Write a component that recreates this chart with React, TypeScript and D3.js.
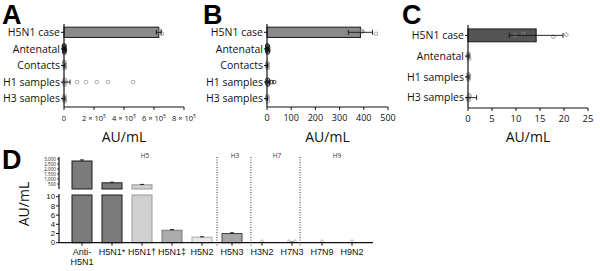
import React from "react";
import * as d3 from "d3";

// ---------- Panel A ----------
const aCategories = ["H5N1 case", "Antenatal", "Contacts", "H1 samples", "H3 samples"];
const aMeans = [632000, 2000, 3000, 12000, 3000];
const aErrs = [16000, 1500, 3000, 28000, 3000];
const aPoints = [
  [615000, 640000, 652000, 630000],
  [500, 1500, 2500, 800, 3000, 1200, 2000, 4000],
  [1000, 3000, 5000, 2000, 6000, 1500],
  [1000, 3000, 6000, 9000, 2000, 87000, 147000, 220000, 293000, 460000],
  [1000, 3000, 5000, 2000, 4000],
];
const aTicks = [0, 200000, 400000, 600000, 800000];

// ---------- Panel B ----------
const bCategories = ["H5N1 case", "Antenatal", "Contacts", "H1 samples", "H3 samples"];
const bMeans = [386, 3, 2, 5, 1];
const bErrs = [50, 2, 1, 5, 1];
const bPoints = [
  [337, 390, 450, 395],
  [1, 2, 3, 4, 5, 2, 3, 1],
  [1, 2, 3, 2, 1],
  [1, 2, 4, 6, 3, 20, 30],
  [1, 2, 3, 1],
];
const bTicks = [0, 100, 200, 300, 400, 500];

// ---------- Panel C ----------
const cCategories = ["H5N1 case", "Antenatal", "H1 samples", "H3 samples"];
const cMeans = [14.2, 0.1, 0.1, 0.3];
const cErrs = [5.6, 0.1, 0.1, 1.5];
const cPoints = [
  [9.8, 11.5, 17.8, 20.5],
  [0.1, 0.1, 0.2, 0.1, 0.1],
  [0.1, 0.1, 0.1, 0.2, 0.1],
  [0.1, 0.2, 0.1, 0.3, 0.1],
];
const cTicks = [0, 5, 10, 15, 20, 25];

// ---------- Panel D ----------
const dCategories = ["Anti-H5N1", "H5N1*", "H5N1\u2020", "H5N1\u2021", "H5N2", "H5N3", "H3N2", "H7N3", "H7N9", "H9N2"];
const dLabelLines = [["Anti-", "H5N1"], ["H5N1*"], ["H5N1\u2020"], ["H5N1\u2021"], ["H5N2"], ["H5N3"], ["H3N2"], ["H7N3"], ["H7N9"], ["H9N2"]];
const dValues = [2800, 620, 420, 2.7, 1.2, 2.0, 0.05, 0.1, 0.03, 0.05];
const dErrs = [110, 60, 40, 0.15, 0.08, 0.15, 0, 0.05, 0, 0];
const dFills = ["#7b7b7b", "#7b7b7b", "#d0d0d0", "#ababab", "#e8e8e8", "#a6a6a6", "#bbb", "#bbb", "#333", "#bbb"];
const dStrokes = ["#1a1a1a", "#1a1a1a", "#999", "#777", "#aaa", "#444", "#999", "#999", "#111", "#999"];
const dUpperTicks = [500, 1000, 1500, 2000, 2500, 3000];
const dLowerTicks = [0, 2, 4, 6, 8, 10];
const dGroups = ["H5", "H3", "H7", "H9"];
const dGroupPos = [2.1, 5.1, 6.5, 8.5];
const dDividerPos = [4.5, 5.63, 7.27];

const FONT = "'Open Sans', 'DejaVu Sans', sans-serif";
const LFONT = "'Liberation Sans', Arial, sans-serif";
const jitter = [0, -2.4, 2.4, -1.2, 1.2, -3.4, 3.4, 0.6, -0.6, 1.8, -1.8];

type HP = {
  label: string;
  labelX: number;
  x0: number;
  x1: number;
  yTop: number;
  yBottom: number;
  categories: string[];
  means: number[];
  errs: number[];
  points: number[][];
  ticks: number[];
  domainMax: number;
  tickFont: number;
  tickFmt: (v: number) => React.ReactNode;
  barFill: string;
  pointColors: string[];
};

function HPanel(p: HP) {
  const x = d3.scaleLinear().domain([0, p.domainMax]).range([p.x0, p.x1]);
  const y = d3.scaleBand<string>().domain(p.categories).range([p.yTop, p.yBottom]).paddingInner(0.38).paddingOuter(0.19);
  const bw = y.bandwidth();
  return (
    <g>
      <text x={p.labelX} y={24} fontFamily={LFONT} fontWeight="bold" fontSize={27}>{p.label}</text>
      {p.categories.map((c, i) => {
        const cy = (y(c) as number) + bw / 2;
        return (
          <g key={c}>
            {p.means[i] > p.domainMax * 0.02 && (
              <rect x={x(0)} y={y(c)} width={x(p.means[i]) - x(0)} height={bw} fill={p.barFill} stroke="#1a1a1a" strokeWidth={1} />
            )}
            {p.points[i].map((v, j) => {
              const near = v < p.domainMax * 0.03;
              const jy = near ? jitter[j % jitter.length] : (i === 0 ? jitter[j % jitter.length] * 0.6 : 0);
              return <circle key={j} cx={x(v)} cy={cy + jy} r={near ? 2 : 1.8} fill="none" stroke={p.pointColors[i]} strokeWidth={0.8} />;
            })}
            <line x1={x(Math.max(0, p.means[i] - p.errs[i]))} x2={x(p.means[i] + p.errs[i])} y1={cy} y2={cy} stroke="#111" strokeWidth={0.9} />
            <line x1={x(p.means[i] + p.errs[i])} x2={x(p.means[i] + p.errs[i])} y1={cy - 2.5} y2={cy + 2.5} stroke="#111" strokeWidth={0.9} />
            {p.means[i] - p.errs[i] > 0 && (
              <line x1={x(p.means[i] - p.errs[i])} x2={x(p.means[i] - p.errs[i])} y1={cy - 2.5} y2={cy + 2.5} stroke="#111" strokeWidth={0.9} />
            )}
            <line x1={p.x0 - 3} x2={p.x0} y1={cy} y2={cy} stroke="#111" strokeWidth={1} />
            <text x={p.x0 - 4} y={cy} dy="0.35em" textAnchor="end" fontFamily={FONT} fontSize={10.5} fill="#111">{c}</text>
          </g>
        );
      })}
      <line x1={p.x0} x2={p.x0} y1={p.yTop} y2={p.yBottom} stroke="#111" strokeWidth={1.2} />
      <line x1={p.x0} x2={p.x1} y1={p.yBottom} y2={p.yBottom} stroke="#111" strokeWidth={1.2} />
      {p.ticks.map((t) => (
        <g key={t}>
          <line x1={x(t)} x2={x(t)} y1={p.yBottom} y2={p.yBottom + 3} stroke="#111" strokeWidth={1} />
          <text x={x(t)} y={p.yBottom + 14} textAnchor="middle" fontFamily={FONT} fontSize={p.tickFont} fill="#111">{p.tickFmt(t)}</text>
        </g>
      ))}
      <text x={(p.x0 + p.x1) / 2} y={142} textAnchor="middle" fontFamily={FONT} fontSize={14} fill="#111">AU/mL</text>
    </g>
  );
}

function PanelD() {
  const x = d3.scalePoint<string>().domain(dCategories).range([82, 352]);
  const step = x.step();
  const xi = (i: number) => 82 + step * i;
  const yL = d3.scaleLinear().domain([0, 10]).range([242.7, 196.7]);
  const yU = d3.scaleLinear().domain([0, 3000]).range([189, 159]);
  const axX = 59;
  const bw = 20;
  const base = yL(0);
  return (
    <g>
      <text x={2} y={169} fontFamily={LFONT} fontWeight="bold" fontSize={27}>D</text>
      <text transform={`translate(29,204) rotate(-90)`} textAnchor="middle" fontFamily={FONT} fontSize={14} fill="#111">AU/mL</text>
      {dDividerPos.map((d, i) => (
        <line key={i} x1={xi(d)} x2={xi(d)} y1={157} y2={246} stroke="#333" strokeWidth={1} strokeDasharray="1,1.5" />
      ))}
      {dGroups.map((g, i) => (
        <text key={g} x={xi(dGroupPos[i])} y={158} textAnchor="middle" fontFamily={FONT} fontSize={6.5} fill="#333">{g}</text>
      ))}
      {dCategories.map((c, i) => {
        const cx = x(c) as number;
        const v = dValues[i];
        const lowTop = v > 10 ? 195 : yL(v);
        return (
          <g key={c}>
            {v > 0.2 && (
              <rect x={cx - bw / 2} y={lowTop} width={bw} height={base - lowTop} fill={dFills[i]} stroke={dStrokes[i]} strokeWidth={1} />
            )}
            {v > 10 && (
              <rect x={cx - bw / 2} y={yU(v)} width={bw} height={189 - yU(v)} fill={dFills[i]} stroke={dStrokes[i]} strokeWidth={1} />
            )}
            {dErrs[i] > 0 && (
              <g stroke="#111" strokeWidth={0.9}>
                <line x1={cx} x2={cx} y1={v > 10 ? yU(v) : yL(v)} y2={v > 10 ? yU(v + dErrs[i]) : yL(v + dErrs[i])} />
                <line x1={cx - 2} x2={cx + 2} y1={v > 10 ? yU(v + dErrs[i]) : yL(v + dErrs[i])} y2={v > 10 ? yU(v + dErrs[i]) : yL(v + dErrs[i])} />
              </g>
            )}
            {v <= 0.2 && (
              <circle cx={cx + (i === 7 ? -3 : 0)} cy={base - 1.5} r={1.3} fill="none" stroke="#999" strokeWidth={0.7} />
            )}
            {i === 7 && <circle cx={cx + 3} cy={base - 1.5} r={1.3} fill="none" stroke="#999" strokeWidth={0.7} />}
            <line x1={cx} x2={cx} y1={base} y2={base + 3} stroke="#111" strokeWidth={1} />
            <text x={cx} y={254.5} textAnchor="middle" fontFamily={LFONT} fontSize={9} fill="#111">
              {dLabelLines[i].map((ln, k) => (
                <tspan key={k} x={cx} dy={k === 0 ? 0 : 10.6}>{ln}</tspan>
              ))}
            </text>
          </g>
        );
      })}
      <line x1={axX} x2={373} y1={base} y2={base} stroke="#111" strokeWidth={1.2} />
      <line x1={axX} x2={axX} y1={194} y2={base} stroke="#111" strokeWidth={1.2} />
      <line x1={axX} x2={axX} y1={157} y2={189} stroke="#111" strokeWidth={1.2} />
      {dLowerTicks.map((t) => (
        <g key={t}>
          <line x1={axX - 3} x2={axX} y1={yL(t)} y2={yL(t)} stroke="#111" strokeWidth={1} />
          <text x={axX - 4} y={yL(t)} dy="0.35em" textAnchor="end" fontFamily={LFONT} fontSize={7.8} fill="#111">{t}</text>
        </g>
      ))}
      {dUpperTicks.map((t) => (
        <g key={t}>
          <line x1={axX - 2} x2={axX} y1={yU(t)} y2={yU(t)} stroke="#111" strokeWidth={0.8} />
          <text x={axX - 3} y={yU(t)} dy="0.35em" textAnchor="end" fontFamily={FONT} fontSize={4.6} fill="#111">{d3.format(",")(t)}</text>
        </g>
      ))}
    </g>
  );
}

export default function App() {
  const fmtA = (v: number) =>
    v === 0 ? "0" : (
      <>
        {`${v / 100000} \u00d7 10`}
        <tspan dy={-3} fontSize={5}>5</tspan>
      </>
    );
  const fmtN = (v: number) => String(v);
  return (
    <svg width={600} height={271} style={{ position: "absolute", left: 0, top: 0, background: "#fff" }}>
      <rect width={600} height={271} fill="#fff" />
      <HPanel label="A" labelX={2} x0={64} x1={184} yTop={24} yBottom={107} categories={aCategories} means={aMeans} errs={aErrs} points={aPoints} ticks={aTicks} domainMax={800000} tickFont={7.5} tickFmt={fmtA} barFill="#8a8a8a" pointColors={["#888", "#111", "#999", "#999", "#999"]} />
      <HPanel label="B" labelX={203} x0={267} x1={388} yTop={24} yBottom={107} categories={bCategories} means={bMeans} errs={bErrs} points={bPoints} ticks={bTicks} domainMax={500} tickFont={9} tickFmt={fmtN} barFill="#8a8a8a" pointColors={["#888", "#111", "#999", "#222", "#999"]} />
      <HPanel label="C" labelX={402} x0={468} x1={588} yTop={25} yBottom={108} categories={cCategories} means={cMeans} errs={cErrs} points={cPoints} ticks={cTicks} domainMax={25} tickFont={9.5} tickFmt={fmtN} barFill="#555" pointColors={["#888", "#999", "#999", "#999"]} />
      <PanelD />
    </svg>
  );
}
